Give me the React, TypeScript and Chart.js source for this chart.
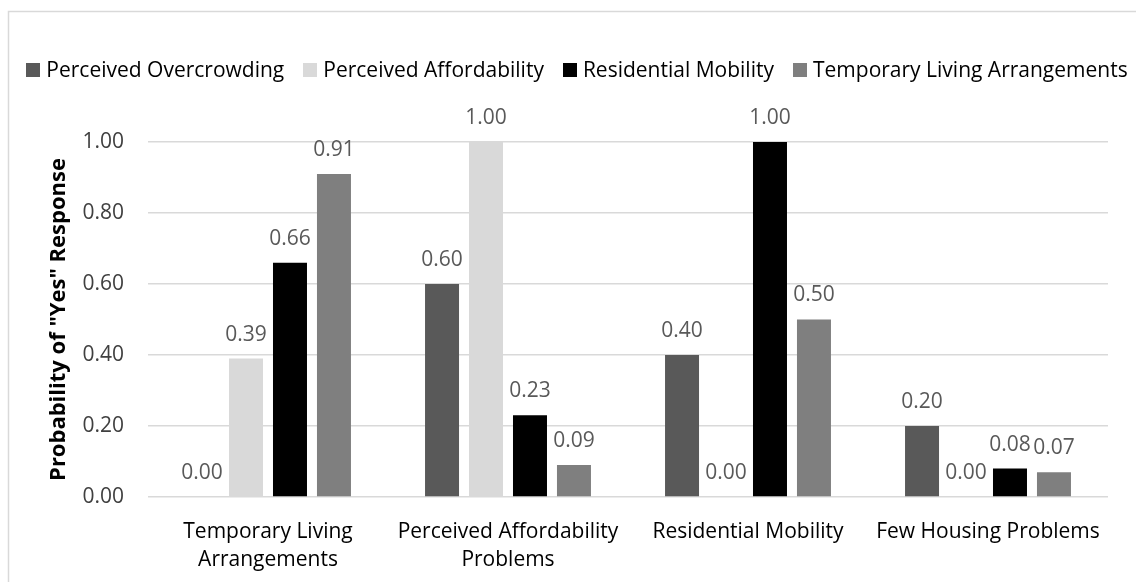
import { useEffect, useRef } from "react";
import { Chart, registerables } from "chart.js";

Chart.register(...registerables);

// Categories along the x axis (multi-line labels as arrays)
const categories: (string | string[])[] = [
  ["Temporary Living", "Arrangements"],
  ["Perceived Affordability", "Problems"],
  "Residential Mobility",
  "Few Housing Problems",
];

const seriesNames = [
  "Perceived Overcrowding",
  "Perceived Affordability",
  "Residential Mobility",
  "Temporary Living Arrangements",
];

// Probability of a "Yes" response for each series, per category
const overcrowding = [0.0, 0.6, 0.4, 0.2];
const affordability = [0.39, 1.0, 0.0, 0.0];
const mobility = [0.66, 0.23, 1.0, 0.08];
const temporaryLiving = [0.91, 0.09, 0.5, 0.07];

const seriesColors = ["#595959", "#d9d9d9", "#000000", "#7f7f7f"];

const yMin = 0;
const yMax = 1;
const yStep = 0.2;
const yTitle = 'Probability of "Yes" Response';

const FONT = '"Open Sans", "Noto Sans", sans-serif';

// Light frame around the whole chart
const framePlugin = {
  id: "frame",
  beforeDraw(chart: Chart) {
    const { ctx } = chart;
    ctx.save();
    ctx.fillStyle = "#ffffff";
    ctx.fillRect(0, 0, chart.width, chart.height);
    ctx.strokeStyle = "#d9d9d9";
    ctx.lineWidth = 1.5;
    ctx.strokeRect(8.5, 11.5, 3000, 3000);
    ctx.restore();
  },
};

// Single-row legend built from the datasets, centred inside the frame
const rowLegend = {
  id: "rowLegend",
  afterDraw(chart: Chart) {
    const { ctx } = chart;
    const box = 14;
    const textGap = 6;
    const itemGap = 19;
    const centerX = 577;
    const centerY = 70;
    ctx.save();
    ctx.font = `21px ${FONT}`;
    ctx.textBaseline = "middle";
    ctx.textAlign = "left";
    const items = chart.data.datasets.map((ds) => ({
      text: String(ds.label),
      color: String(ds.backgroundColor),
      width: ctx.measureText(String(ds.label)).width,
    }));
    const total =
      items.reduce((s, it) => s + box + textGap + it.width, 0) + itemGap * (items.length - 1);
    let x = centerX - total / 2;
    items.forEach((it) => {
      ctx.fillStyle = it.color;
      ctx.fillRect(Math.round(x), centerY - box / 2, box, box);
      ctx.fillStyle = "#000000";
      ctx.fillText(it.text, x + box + textGap, centerY + 1);
      x += box + textGap + it.width + itemGap;
    });
    ctx.restore();
  },
};

// Value labels above each bar
const valueLabels = {
  id: "valueLabels",
  afterDatasetsDraw(chart: Chart) {
    const { ctx } = chart;
    ctx.save();
    ctx.font = `21px ${FONT}`;
    ctx.fillStyle = "#595959";
    ctx.textAlign = "center";
    ctx.textBaseline = "middle";
    chart.data.datasets.forEach((ds, i) => {
      const meta = chart.getDatasetMeta(i);
      meta.data.forEach((bar: any, j: number) => {
        const v = ds.data[j] as number;
        ctx.fillText(v.toFixed(2), bar.x, bar.y - 24);
      });
    });
    ctx.restore();
  },
};

export default function App() {
  const canvasRef = useRef<HTMLCanvasElement | null>(null);

  useEffect(() => {
    const canvas = canvasRef.current;
    if (!canvas) return;
    const values = [overcrowding, affordability, mobility, temporaryLiving];
    const chart = new Chart(canvas, {
      type: "bar",
      data: {
        labels: categories,
        datasets: seriesNames.map((name, i) => ({
          label: name,
          data: values[i],
          backgroundColor: seriesColors[i],
          borderWidth: 0,
          categoryPercentage: 0.733,
          barPercentage: 0.773,
        })),
      },
      options: {
        responsive: false,
        animation: false,
        devicePixelRatio: 1,
        layout: { padding: { left: 46, right: 28, top: 142, bottom: 0 } },
        plugins: {
          legend: { display: false },
          tooltip: { enabled: false },
        },
        scales: {
          x: {
            grid: { display: false, drawTicks: false },
            border: { display: false },
            ticks: {
              color: "#000000",
              padding: 21,
              maxRotation: 0,
              autoSkip: false,
              font: { family: FONT, size: 21, lineHeight: 1.333 },
            },
            afterFit(scale: any) {
              scale.height = 85;
            },
          },
          y: {
            min: yMin,
            max: yMax,
            grid: { color: "#d9d9d9", lineWidth: 1.5, drawTicks: false },
            border: { display: false },
            ticks: {
              stepSize: yStep,
              color: "#404040",
              padding: 24,
              font: { family: FONT, size: 21 },
              callback: (v: any) => Number(v).toFixed(2),
            },
            title: {
              display: true,
              text: yTitle,
              color: "#000000",
              font: { family: FONT, size: 22, weight: "bold" },
              padding: { top: 0, bottom: 0 },
            },
            afterFit(scale: any) {
              scale.width = 102;
            },
          },
        },
      },
      plugins: [framePlugin, valueLabels, rowLegend],
    });
    return () => chart.destroy();
  }, []);

  return (
    <div
      style={{
        position: "fixed",
        left: 0,
        top: 0,
        width: 1136,
        height: 582,
        overflow: "hidden",
        background: "#ffffff",
      }}
    >
      <canvas ref={canvasRef} width={1136} height={582} style={{ display: "block" }} />
    </div>
  );
}
